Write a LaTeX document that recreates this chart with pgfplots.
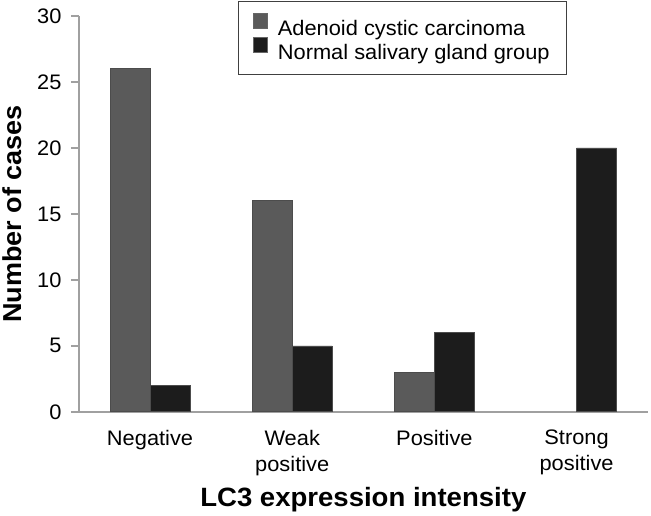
\documentclass[border=0pt]{standalone}
\usepackage{pgfplots}
\pgfplotsset{compat=1.18}
\usepackage{fontspec}
\setmainfont{Liberation Sans}[FakeStretch=1.04]
\definecolor{acc}{HTML}{5A5A5A}
\definecolor{nsg}{HTML}{1C1C1C}
\definecolor{axgray}{HTML}{A0A0A0}
\begin{document}
\begin{tikzpicture}
\begin{axis}[
  scale only axis, width=569pt, height=396pt,
  xmin=0.5, xmax=4.5, ymin=0, ymax=30,
  axis x line*=bottom, axis y line*=left,
  axis line style={axgray, line width=1.6pt},
  ytick={0,5,...,30},
  xtick={1,2,3,4},
  xticklabels={Negative,{Weak\\positive},Positive,{Strong\\positive}},
  x tick label style={align=center, font=\fontsize{21}{26}\selectfont, yshift=-7pt},
  y tick label style={font=\fontsize{21}{24}\selectfont, xshift=-6pt},
  /pgf/number format/assume math mode=true,
  tick align=outside,
  major tick length=8pt,
  ytick style={axgray, line width=1.6pt},
  xtick style={draw=none},
  extra x ticks={0.5,1.5,2.5,3.5,4.5},
  extra x tick labels={},
  extra x tick style={xtick style={axgray, line width=1.6pt}, major tick length=8pt},
  xlabel={\textbf{LC3 expression intensity}},
  ylabel={\textbf{Number of cases}},
  xlabel style={font=\fontsize{26.5}{30}\selectfont, at={(rel axis cs:0.5,0)}, anchor=base, yshift=-95pt, inner sep=0pt},
  ylabel style={font=\fontsize{26}{30}\selectfont, at={(rel axis cs:0,0.5)}, anchor=south, yshift=57pt, inner sep=0pt},
  ybar=0pt, bar width=40pt,
  legend style={at={(rel axis cs:0.2794,1.0379)}, anchor=north west,
    draw=black!75, line width=1pt, font=\fontsize{21}{24}\selectfont,
    inner xsep=15pt, inner ysep=12pt, row sep=-2pt, column sep=0pt,
    cells={anchor=west, inner sep=0pt}},
  legend cell align=left,
  legend image code/.code={\draw[#1, draw=black!60, line width=0.5pt] (0pt,0pt) rectangle (14pt,15pt); \path (22pt,0pt);},
]
\addplot[fill=acc, draw=black!70, line width=0.6pt] coordinates {(1,26) (2,16) (3,3)};
\addplot[fill=nsg, draw=black!70, line width=0.6pt] coordinates {(1,2) (2,5) (3,6) (4,20)};
\legend{Adenoid cystic carcinoma, Normal salivary gland group}
\coordinate (o) at (rel axis cs:0,0);
\end{axis}
\path (o) ++(-79pt,-104pt) rectangle ++(651pt,516pt);
\end{tikzpicture}
\end{document}
